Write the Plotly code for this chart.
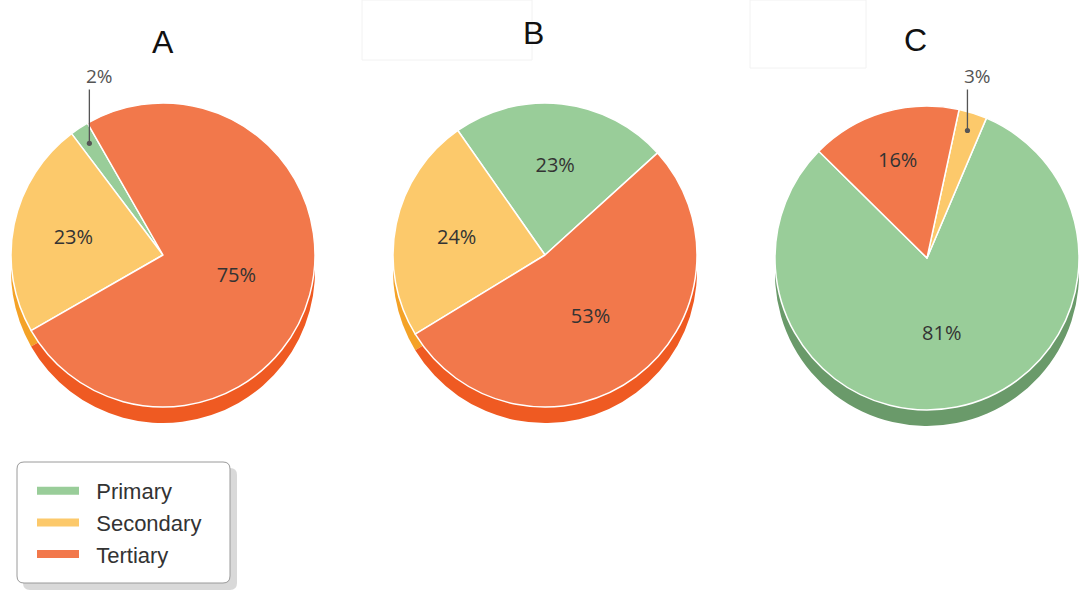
import math
import plotly.graph_objects as go

# data
categories = ["Primary", "Secondary", "Tertiary"]
panel_titles = ["A", "B", "C"]
values_a = [2, 23, 75]
values_b = [23, 24, 53]
values_c = [81, 3, 16]
rotations = [-37, -35, 23]  # plotly pie rotation per panel

colors = ["#99cd99", "#fcc96b", "#f2784b"]
shadow_colors = ["#6a9a6a", "#f4a227", "#ef5a22"]

W, H = 1082, 610
centers = [(163, 255), (545, 255), (927, 258)]  # pie centres in px
title_pos = [(163, 42), (533, 33), (916, 40)]
R = 152
SHADOW = 16
SMALL = 5  # slices below this get a label outside with a line
LABEL_Y = 76  # px, outside labels


def dom(cx, cy, dy=0):
    return dict(
        x=[(cx - R) / W, (cx + R) / W],
        y=[1 - (cy + dy + R) / H, 1 - (cy + dy - R) / H],
    )


fig = go.Figure()
annotations = []

for vals, rot, (cx, cy), title, (tx, ty) in zip(
        [values_a, values_b, values_c], rotations, centers, panel_titles, title_pos):
    # darker copy underneath gives the 3D edge
    fig.add_trace(go.Pie(
        labels=categories, values=vals, sort=False, direction="counterclockwise",
        rotation=rot, domain=dom(cx, cy, SHADOW), showlegend=False,
        marker=dict(colors=shadow_colors, line=dict(width=0)),
        textinfo="none", hoverinfo="skip",
    ))
    fig.add_trace(go.Pie(
        labels=categories, values=vals, sort=False, direction="counterclockwise",
        rotation=rot, domain=dom(cx, cy), showlegend=False,
        marker=dict(colors=colors, line=dict(color="white", width=1.5)),
        text=[f"{v}%" if v >= SMALL else "" for v in vals],
        textinfo="text", textposition="inside", insidetextorientation="horizontal",
        textfont=dict(family="Open Sans", size=20, color="#333333"),
    ))

    # small slices: label above with a vertical pointer line
    # (ccw pie in plotly: first slice ends at `rot`, the rest follow ccw)
    total = sum(vals)
    start = rot + vals[0] / total * 360
    cum = 0
    for v in vals:
        mid = start - (cum + v / 2) / total * 360
        cum += v
        if v >= SMALL:
            continue
        a = math.radians(mid)
        px = cx + 0.88 * R * math.sin(a)
        py = cy - 0.88 * R * math.cos(a)
        annotations.append(dict(
            x=px / W, y=1 - py / H, xref="paper", yref="paper",
            text="", showarrow=True, ax=0, ay=LABEL_Y + 12 - py,
            arrowhead=6, arrowsize=1, arrowwidth=1.3, arrowcolor="#555555",
        ))
        annotations.append(dict(
            x=(px + 10) / W, y=1 - LABEL_Y / H, xref="paper", yref="paper",
            text=f"{v}%", showarrow=False, xanchor="center", yanchor="middle",
            font=dict(family="Open Sans", size=19, color="#555555"),
        ))

    annotations.append(dict(
        x=tx / W, y=1 - ty / H, xref="paper", yref="paper", text=title, showarrow=False,
        xanchor="center", yanchor="middle",
        font=dict(family="Liberation Sans", size=32, color="#111111"),
    ))

# legend entries
for cat, col in zip(categories, colors):
    fig.add_trace(go.Scatter(
        x=[None], y=[None], mode="lines", name="\u00a0\u00a0" + cat, legendgroup=cat,
        line=dict(color=col, width=8),
    ))


def rounded_rect(x0, y0, x1, y1, r):
    return (f"M{x0 + r},{y0} L{x1 - r},{y0} Q{x1},{y0} {x1},{y0 + r} "
            f"L{x1},{y1 - r} Q{x1},{y1} {x1 - r},{y1} L{x0 + r},{y1} "
            f"Q{x0},{y1} {x0},{y1 - r} L{x0},{y0 + r} Q{x0},{y0} {x0 + r},{y0} Z")


# legend box with shadow + two faint boxes near the titles (pixel coords on a hidden axis)
shapes = [
    dict(type="path", xref="x", yref="y", path=rounded_rect(23, 468, 237, 590, 7),
         fillcolor="#d9d9d9", line=dict(width=0), layer="below"),
    dict(type="path", xref="x", yref="y", path=rounded_rect(17, 462, 230, 583, 7),
         fillcolor="white", line=dict(color="#9a9a9a", width=1), layer="below"),
    dict(type="rect", xref="x", yref="y", x0=362, y0=0, x1=532, y1=60,
         line=dict(color="#f2f2f2", width=1), layer="below"),
    dict(type="rect", xref="x", yref="y", x0=750, y0=0, x1=866, y1=68,
         line=dict(color="#f2f2f2", width=1), layer="below"),
]

fig.update_layout(
    width=W, height=H,
    margin=dict(l=0, r=0, t=0, b=0),
    paper_bgcolor="white", plot_bgcolor="rgba(0,0,0,0)",
    xaxis=dict(range=[0, W], visible=False, domain=[0, 1], fixedrange=True),
    yaxis=dict(range=[H, 0], visible=False, domain=[0, 1], fixedrange=True),
    showlegend=True,
    legend=dict(
        x=32 / W, y=1 - 470 / H, xanchor="left", yanchor="top",
        bgcolor="rgba(0,0,0,0)", borderwidth=0,
        font=dict(family="Liberation Sans", size=22, color="#333333"),
        itemwidth=42, tracegroupgap=0,
    ),
    annotations=annotations,
    shapes=shapes,
)

fig.write_html("out.html", config={"displayModeBar": False},
               post_script="document.body.style.margin='0px';")
